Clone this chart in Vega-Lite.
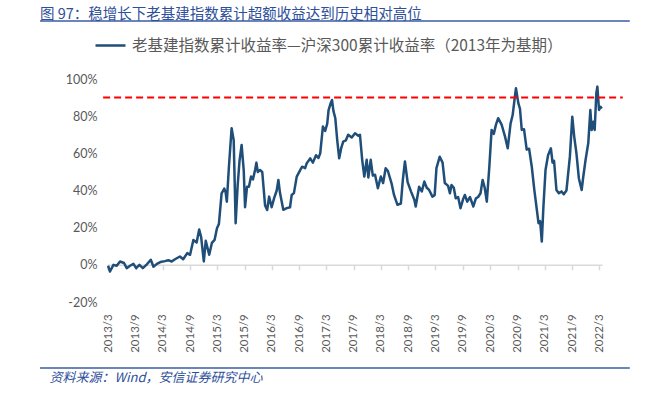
{
  "$schema": "https://vega.github.io/schema/vega-lite/v6.json",
  "width": 495,
  "height": 223,
  "autosize": "none",
  "padding": {"left": 107, "top": 79, "right": 62, "bottom": 96},
  "background": "white",
  "config": {"view": {"stroke": null}, "font": "Noto Sans CJK SC"},
  "title": {
    "text": "图 97：稳增长下老基建指数累计超额收益达到历史相对高位",
    "anchor": "start",
    "frame": "group",
    "dx": -67,
    "dy": 3,
    "offset": 1,
    "fontSize": 14.5,
    "fontWeight": "normal",
    "color": "#2E4F9A",
    "font": "Noto Sans CJK SC"
  },
  "datasets": {
    "series": [
      {"date": "2013-03-01", "v": -0.5},
      {"date": "2013-03-14", "v": -3.6},
      {"date": "2013-04-06", "v": 0},
      {"date": "2013-04-28", "v": -0.5},
      {"date": "2013-05-20", "v": 1.8},
      {"date": "2013-06-16", "v": 1},
      {"date": "2013-07-04", "v": -1.8},
      {"date": "2013-07-26", "v": -0.5},
      {"date": "2013-08-18", "v": 0.5},
      {"date": "2013-09-05", "v": -1.8},
      {"date": "2013-09-27", "v": 0},
      {"date": "2013-10-20", "v": -1.8},
      {"date": "2013-11-16", "v": 0.3},
      {"date": "2013-12-12", "v": 2.7},
      {"date": "2013-12-30", "v": -1},
      {"date": "2014-01-22", "v": 0.5},
      {"date": "2014-02-14", "v": 1.5},
      {"date": "2014-03-17", "v": 2},
      {"date": "2014-04-08", "v": 2.5},
      {"date": "2014-05-01", "v": 1.8},
      {"date": "2014-05-23", "v": 3},
      {"date": "2014-06-25", "v": 4.5},
      {"date": "2014-07-17", "v": 3},
      {"date": "2014-08-13", "v": 6.3},
      {"date": "2014-09-01", "v": 5.4},
      {"date": "2014-09-23", "v": 13.4},
      {"date": "2014-10-15", "v": 12},
      {"date": "2014-11-01", "v": 19},
      {"date": "2014-11-14", "v": 15},
      {"date": "2014-12-02", "v": 1.8},
      {"date": "2014-12-15", "v": 13},
      {"date": "2015-01-07", "v": 5.4},
      {"date": "2015-01-25", "v": 11.8},
      {"date": "2015-02-12", "v": 13.4},
      {"date": "2015-02-28", "v": 19.7},
      {"date": "2015-03-13", "v": 22},
      {"date": "2015-03-31", "v": 38.5},
      {"date": "2015-04-18", "v": 41},
      {"date": "2015-04-27", "v": 39},
      {"date": "2015-05-05", "v": 34},
      {"date": "2015-05-19", "v": 52.8},
      {"date": "2015-06-06", "v": 73.5},
      {"date": "2015-06-20", "v": 67},
      {"date": "2015-07-03", "v": 22.4},
      {"date": "2015-07-16", "v": 42},
      {"date": "2015-07-29", "v": 56},
      {"date": "2015-08-12", "v": 64.5},
      {"date": "2015-08-26", "v": 51},
      {"date": "2015-09-04", "v": 31},
      {"date": "2015-09-17", "v": 42},
      {"date": "2015-09-30", "v": 42},
      {"date": "2015-10-14", "v": 47.5},
      {"date": "2015-10-27", "v": 46},
      {"date": "2015-11-10", "v": 51},
      {"date": "2015-11-19", "v": 55},
      {"date": "2015-11-28", "v": 50},
      {"date": "2015-12-13", "v": 51},
      {"date": "2015-12-28", "v": 50},
      {"date": "2016-01-16", "v": 32},
      {"date": "2016-01-30", "v": 29.5},
      {"date": "2016-02-12", "v": 36.7},
      {"date": "2016-02-29", "v": 31},
      {"date": "2016-03-17", "v": 36},
      {"date": "2016-04-03", "v": 40},
      {"date": "2016-04-14", "v": 45.7},
      {"date": "2016-04-25", "v": 38.6},
      {"date": "2016-05-17", "v": 29.6},
      {"date": "2016-06-09", "v": 30.5},
      {"date": "2016-07-01", "v": 31},
      {"date": "2016-07-12", "v": 37.6},
      {"date": "2016-07-27", "v": 38.6},
      {"date": "2016-08-15", "v": 47.5},
      {"date": "2016-09-07", "v": 51},
      {"date": "2016-09-20", "v": 52.8},
      {"date": "2016-10-10", "v": 52},
      {"date": "2016-10-21", "v": 54.7},
      {"date": "2016-11-13", "v": 57.3},
      {"date": "2016-12-01", "v": 55},
      {"date": "2016-12-22", "v": 59},
      {"date": "2017-01-07", "v": 57.5},
      {"date": "2017-01-19", "v": 60},
      {"date": "2017-02-06", "v": 74.4},
      {"date": "2017-02-21", "v": 72},
      {"date": "2017-03-07", "v": 76},
      {"date": "2017-03-16", "v": 83.3},
      {"date": "2017-03-30", "v": 87},
      {"date": "2017-04-08", "v": 88.7},
      {"date": "2017-04-17", "v": 83},
      {"date": "2017-04-30", "v": 78.9},
      {"date": "2017-05-13", "v": 67},
      {"date": "2017-05-26", "v": 57.3},
      {"date": "2017-06-09", "v": 63},
      {"date": "2017-06-22", "v": 66.3},
      {"date": "2017-07-10", "v": 67},
      {"date": "2017-07-25", "v": 70},
      {"date": "2017-08-18", "v": 68.5},
      {"date": "2017-09-09", "v": 70.8},
      {"date": "2017-10-01", "v": 69.5},
      {"date": "2017-10-12", "v": 70},
      {"date": "2017-10-27", "v": 56.5},
      {"date": "2017-11-10", "v": 47.5},
      {"date": "2017-11-26", "v": 56.5},
      {"date": "2017-12-07", "v": 47},
      {"date": "2017-12-23", "v": 56.5},
      {"date": "2018-01-06", "v": 48},
      {"date": "2018-01-21", "v": 48.5},
      {"date": "2018-02-09", "v": 41.2},
      {"date": "2018-03-01", "v": 47.5},
      {"date": "2018-03-16", "v": 44},
      {"date": "2018-04-02", "v": 52},
      {"date": "2018-04-17", "v": 50.5},
      {"date": "2018-05-11", "v": 44},
      {"date": "2018-05-28", "v": 37.6},
      {"date": "2018-06-20", "v": 32.3},
      {"date": "2018-07-13", "v": 33},
      {"date": "2018-07-26", "v": 45.7},
      {"date": "2018-08-09", "v": 55.6},
      {"date": "2018-08-27", "v": 44.5},
      {"date": "2018-09-19", "v": 39.4},
      {"date": "2018-10-11", "v": 35},
      {"date": "2018-10-20", "v": 31.4},
      {"date": "2018-11-12", "v": 42},
      {"date": "2018-11-30", "v": 39.5},
      {"date": "2018-12-17", "v": 44.8},
      {"date": "2019-01-02", "v": 41.5},
      {"date": "2019-01-18", "v": 40.3},
      {"date": "2019-02-09", "v": 36.7},
      {"date": "2019-02-24", "v": 37.5},
      {"date": "2019-03-08", "v": 52},
      {"date": "2019-03-30", "v": 58.2},
      {"date": "2019-04-18", "v": 55},
      {"date": "2019-05-03", "v": 44},
      {"date": "2019-05-25", "v": 42.5},
      {"date": "2019-06-06", "v": 38.5},
      {"date": "2019-06-17", "v": 43},
      {"date": "2019-07-02", "v": 41.5},
      {"date": "2019-07-15", "v": 35.8},
      {"date": "2019-07-31", "v": 36.5},
      {"date": "2019-08-16", "v": 30.5},
      {"date": "2019-09-03", "v": 35.5},
      {"date": "2019-09-14", "v": 37.6},
      {"date": "2019-09-30", "v": 34},
      {"date": "2019-10-18", "v": 36.5},
      {"date": "2019-11-10", "v": 31.4},
      {"date": "2019-11-27", "v": 35.8},
      {"date": "2019-12-12", "v": 36.5},
      {"date": "2019-12-28", "v": 38.5},
      {"date": "2020-01-11", "v": 45.7},
      {"date": "2020-01-25", "v": 41.5},
      {"date": "2020-02-08", "v": 34},
      {"date": "2020-02-25", "v": 52.8},
      {"date": "2020-03-11", "v": 72.6},
      {"date": "2020-03-26", "v": 70.5},
      {"date": "2020-04-09", "v": 75.3},
      {"date": "2020-04-24", "v": 78.9},
      {"date": "2020-05-17", "v": 75.5},
      {"date": "2020-06-09", "v": 69},
      {"date": "2020-06-27", "v": 62.7},
      {"date": "2020-07-16", "v": 76},
      {"date": "2020-07-30", "v": 80.6},
      {"date": "2020-08-14", "v": 90.5},
      {"date": "2020-08-21", "v": 95},
      {"date": "2020-09-06", "v": 87},
      {"date": "2020-09-17", "v": 84},
      {"date": "2020-09-29", "v": 72.6},
      {"date": "2020-10-14", "v": 73},
      {"date": "2020-11-01", "v": 62},
      {"date": "2020-11-17", "v": 62.5},
      {"date": "2020-12-05", "v": 52.8},
      {"date": "2020-12-22", "v": 40.3},
      {"date": "2021-01-08", "v": 29.6},
      {"date": "2021-01-19", "v": 22.4},
      {"date": "2021-01-30", "v": 23.5},
      {"date": "2021-02-10", "v": 12.5},
      {"date": "2021-02-21", "v": 31.4},
      {"date": "2021-03-07", "v": 51},
      {"date": "2021-03-24", "v": 59},
      {"date": "2021-04-12", "v": 62.7},
      {"date": "2021-04-23", "v": 55},
      {"date": "2021-05-03", "v": 56},
      {"date": "2021-05-19", "v": 40.3},
      {"date": "2021-06-04", "v": 38.5},
      {"date": "2021-06-22", "v": 39.5},
      {"date": "2021-07-07", "v": 38},
      {"date": "2021-07-25", "v": 40},
      {"date": "2021-08-17", "v": 58.2},
      {"date": "2021-09-02", "v": 79.7},
      {"date": "2021-09-15", "v": 69},
      {"date": "2021-09-30", "v": 60},
      {"date": "2021-10-16", "v": 46.6},
      {"date": "2021-11-04", "v": 40.3},
      {"date": "2021-11-14", "v": 47},
      {"date": "2021-11-30", "v": 56.5},
      {"date": "2021-12-18", "v": 65.4},
      {"date": "2022-01-01", "v": 83.3},
      {"date": "2022-01-10", "v": 72.6},
      {"date": "2022-01-21", "v": 77},
      {"date": "2022-01-30", "v": 72.6},
      {"date": "2022-02-10", "v": 92.3},
      {"date": "2022-02-17", "v": 95.9},
      {"date": "2022-02-28", "v": 83.3},
      {"date": "2022-03-11", "v": 85},
      {"date": "2022-03-18", "v": 84}
    ]
  },
  "layer": [
    {
      "data": {"values": [{}]},
      "mark": {"type": "rule", "color": "#3A5BA6", "strokeWidth": 1.5},
      "encoding": {
        "x": {"datum": {"year": 2011, "month": 12, "date": 2, "utc": true}, "type": "temporal"},
        "x2": {"datum": {"year": 2022, "month": 9, "date": 22, "utc": true}},
        "y": {"datum": 131.2, "type": "quantitative"}
      }
    },
    {
      "data": {"values": [{}]},
      "mark": {"type": "rule", "color": "#3A5BA6", "strokeWidth": 1.5},
      "encoding": {
        "x": {"datum": {"year": 2011, "month": 12, "date": 2, "utc": true}, "type": "temporal"},
        "x2": {"datum": {"year": 2022, "month": 9, "date": 22, "utc": true}},
        "y": {"datum": -55.5, "type": "quantitative"}
      }
    },
    {
      "data": {"name": "series"},
      "mark": {"type": "line", "strokeWidth": 2.5, "strokeJoin": "round"},
      "encoding": {
        "x": {
          "field": "date",
          "type": "temporal",
          "scale": {
            "type": "utc",
            "domain": [
              {"year": 2013, "month": 2, "date": 22, "utc": true},
              {"year": 2022, "month": 3, "date": 20, "utc": true}
            ]
          },
          "axis": {
            "values": [
              {"year": 2013, "month": 3, "date": 1, "utc": true},
              {"year": 2013, "month": 9, "date": 1, "utc": true},
              {"year": 2014, "month": 3, "date": 1, "utc": true},
              {"year": 2014, "month": 9, "date": 1, "utc": true},
              {"year": 2015, "month": 3, "date": 1, "utc": true},
              {"year": 2015, "month": 9, "date": 1, "utc": true},
              {"year": 2016, "month": 3, "date": 1, "utc": true},
              {"year": 2016, "month": 9, "date": 1, "utc": true},
              {"year": 2017, "month": 3, "date": 1, "utc": true},
              {"year": 2017, "month": 9, "date": 1, "utc": true},
              {"year": 2018, "month": 3, "date": 1, "utc": true},
              {"year": 2018, "month": 9, "date": 1, "utc": true},
              {"year": 2019, "month": 3, "date": 1, "utc": true},
              {"year": 2019, "month": 9, "date": 1, "utc": true},
              {"year": 2020, "month": 3, "date": 1, "utc": true},
              {"year": 2020, "month": 9, "date": 1, "utc": true},
              {"year": 2021, "month": 3, "date": 1, "utc": true},
              {"year": 2021, "month": 9, "date": 1, "utc": true},
              {"year": 2022, "month": 3, "date": 1, "utc": true}
            ],
            "tickCount": 100,
            "labelExpr": "utcFormat(datum.value, '%Y/%-m')",
            "labelAngle": 270,
            "labelFontSize": 11.5,
            "labelColor": "#595959",
            "labelFont": "Lato",
            "labelPadding": 44,
            "offset": -37.2,
            "domainColor": "#D9D9D9",
            "domainWidth": 1.5,
            "tickColor": "#D9D9D9",
            "tickWidth": 1.5,
            "tickSize": 5,
            "grid": false,
            "labelOverlap": false,
            "title": "资料来源：Wind，安信证券研究中心",
            "titleX": -58,
            "titleY": 112.7,
            "titleAlign": "left",
            "titleBaseline": "middle",
            "titleAngle": 0,
            "titleFont": "Noto Sans CJK SC",
            "titleFontStyle": "italic",
            "titleFontWeight": "normal",
            "titleFontSize": 13,
            "titleColor": "#2E4F9A"
          }
        },
        "y": {
          "field": "v",
          "type": "quantitative",
          "scale": {"domain": [-20, 100], "nice": false, "zero": false},
          "axis": {
            "values": [-20, 0, 20, 40, 60, 80, 100],
            "tickCount": 100,
            "labelOverlap": false,
            "labelExpr": "datum.value + '%'",
            "domain": false,
            "ticks": false,
            "grid": false,
            "labelPadding": 10,
            "labelFontSize": 12.5,
            "labelFont": "Lato",
            "labelColor": "#595959",
            "title": null
          }
        },
        "color": {
          "datum": "老基建指数累计收益率—沪深300累计收益率（2013年为基期）",
          "scale": {"range": ["#1F4E79"]},
          "legend": {
            "orient": "none",
            "legendX": -13,
            "legendY": -50,
            "title": null,
            "padding": 0,
            "symbolType": "stroke",
            "symbolSize": 900,
            "symbolStrokeWidth": 2.5,
            "labelFontSize": 15.5,
            "labelColor": "#595959",
            "labelFont": "Noto Sans CJK SC",
            "labelLimit": 1000,
            "labelOffset": 5
          }
        }
      }
    },
    {
      "data": {"values": [{}]},
      "mark": {"type": "rule", "color": "#FF0000", "strokeWidth": 2, "strokeDash": [7, 4]},
      "encoding": {
        "x": {"datum": {"year": 2013, "month": 1, "date": 27, "utc": true}, "type": "temporal"},
        "x2": {"datum": {"year": 2022, "month": 8, "date": 6, "utc": true}},
        "y": {"datum": 90, "type": "quantitative"}
      }
    }
  ]
}
